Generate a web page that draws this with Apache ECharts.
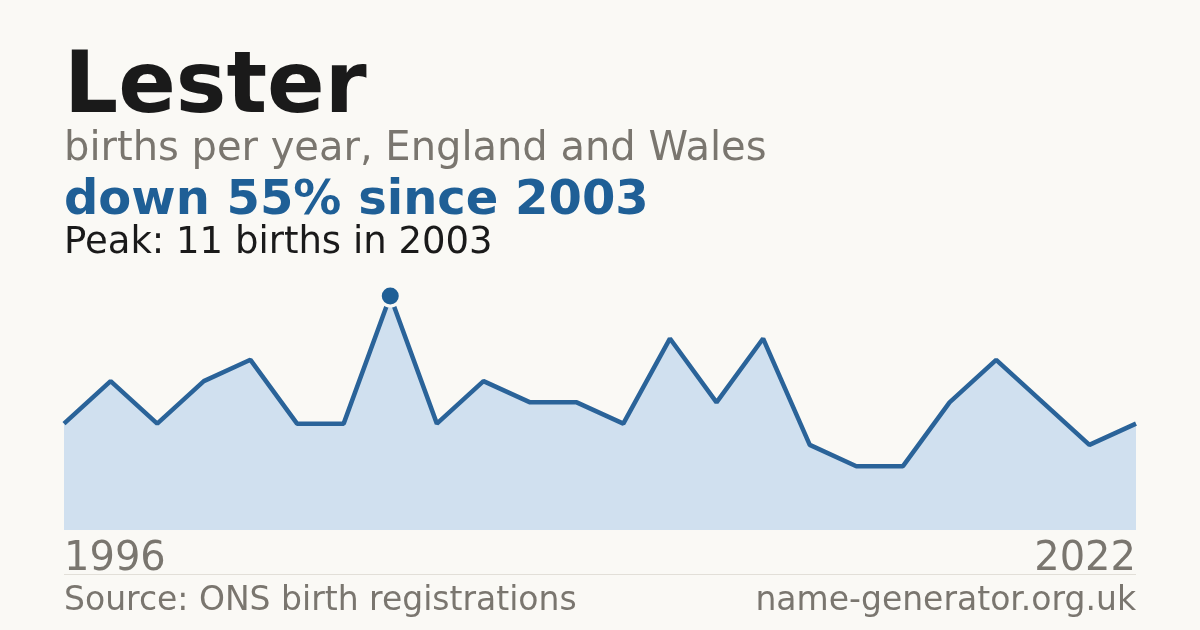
<!DOCTYPE html>
<html>
<head>
<meta charset="utf-8">
<script src="https://cdn.jsdelivr.net/npm/echarts@6/dist/echarts.min.js"></script>
<style>
  html, body { margin: 0; padding: 0; background: #faf9f5; }
  #chart { width: 1200px; height: 630px; }
</style>
</head>
<body>
<div id="chart"></div>
<script>
// years shown on the chart (first and last labelled)
var years = [1996, 1997, 1998, 1999, 2000, 2001, 2002, 2003, 2004, 2005, 2006, 2007,
             2008, 2009, 2010, 2011, 2012, 2013, 2017, 2018, 2019, 2020, 2021, 2022];
// births per year
var births = [5, 7, 5, 7, 8, 5, 5, 11, 5, 7, 6, 6, 5, 9, 6, 9, 4, 3, 3, 6, 8, 6, 4, 5];
var peakIndex = 7;

var font = 'DejaVu Sans, sans-serif';
var myChart = echarts.init(document.getElementById('chart'));

var option = {
    backgroundColor: '#faf9f5',
    animation: false,
    grid: { left: 64, right: 64, top: 296, bottom: 100 },
    xAxis: {
        type: 'category',
        boundaryGap: false,
        data: years,
        axisLine: { show: false },
        axisTick: { show: false },
        axisLabel: {
            interval: 0,
            margin: 10,
            fontFamily: font,
            fontSize: 40,
            color: '#7a766f',
            alignMinLabel: 'left',
            alignMaxLabel: 'right',
            formatter: function (v, i) {
                return (i === 0 || i === years.length - 1) ? String(v) : '';
            }
        }
    },
    yAxis: {
        type: 'value',
        min: 0,
        max: 11,
        show: false,
        splitLine: { show: false }
    },
    graphic: [
        { type: 'text', left: 64, top: 47, style: { text: 'Lester', font: 'bold 85px ' + font, fill: '#1a1a1a' } },
        { type: 'text', left: 64, top: 130, style: { text: 'births per year, England and Wales', font: '40px ' + font, fill: '#7a766f' } },
        { type: 'text', left: 64, top: 178, style: { text: 'down 55% since 2003', font: 'bold 48px ' + font, fill: '#1f5f96' } },
        { type: 'text', left: 64, top: 225, style: { text: 'Peak: 11 births in 2003', font: '37px ' + font, fill: '#1a1a1a' } },
        { type: 'line', shape: { x1: 64, y1: 574.5, x2: 1136, y2: 574.5 }, style: { stroke: '#e2dfd8', lineWidth: 1 } },
        { type: 'text', left: 64, top: 585, style: { text: 'Source: ONS birth registrations', font: '33px ' + font, fill: '#7a766f' } },
        { type: 'text', right: 64, top: 585, style: { text: 'name-generator.org.uk', font: '33px ' + font, fill: '#7a766f' } }
    ],
    series: [
        {
            type: 'line',
            data: births,
            symbol: 'none',
            lineStyle: { color: '#2a6399', width: 4.5 },
            areaStyle: { color: '#d0e0ef', opacity: 1 }
        },
        {
            type: 'scatter',
            data: [[peakIndex, births[peakIndex]]],
            symbol: 'circle',
            symbolSize: 20,
            itemStyle: { color: '#1f5f96', borderColor: '#faf9f5', borderWidth: 3, opacity: 1 },
            z: 5
        }
    ]
};

myChart.setOption(option);
window.onresize = myChart.resize;
</script>
</body>
</html>
